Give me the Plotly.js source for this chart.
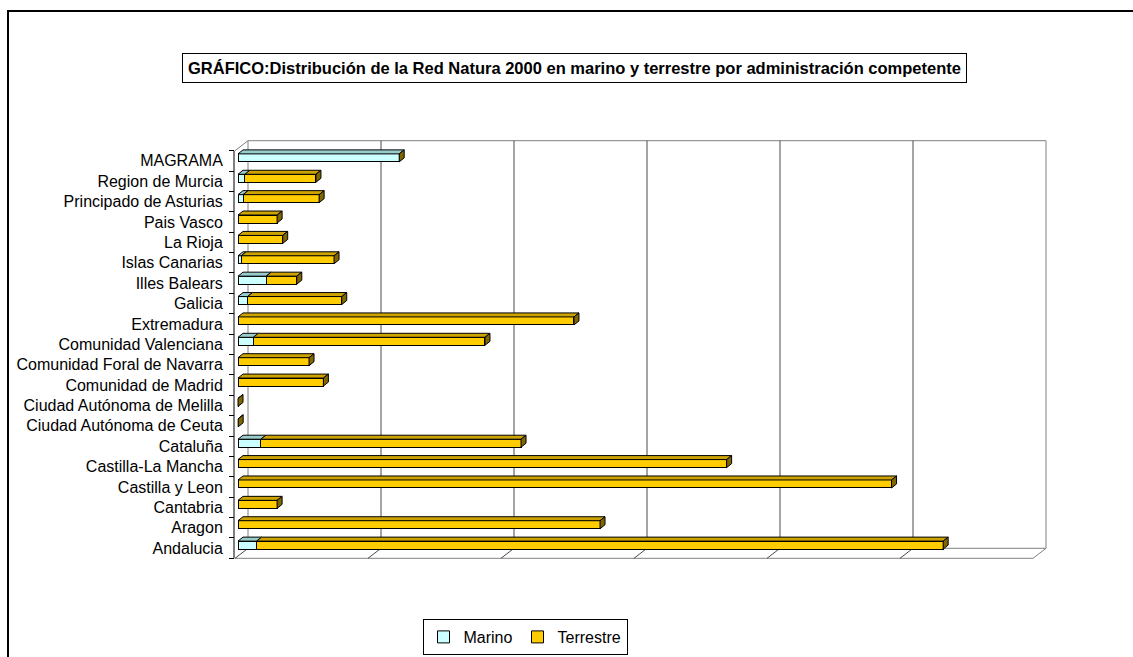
<!DOCTYPE html>
<html>
<head>
<meta charset="utf-8">
<script src="https://cdn.plot.ly/plotly-3.0.1.min.js"></script>
<style>html,body{margin:0;padding:0;background:#fff;}#chart{width:1133px;height:657px;}</style>
</head>
<body>
<div id="chart"></div>
<script>
// ---- data (bottom to top), hectares ----
const categories = ['Andalucia','Aragon','Cantabria','Castilla y Leon','Castilla-La Mancha','Cataluña','Ciudad Autónoma de Ceuta','Ciudad Autónoma de Melilla','Comunidad de Madrid','Comunidad Foral de Navarra','Comunidad Valenciana','Extremadura','Galicia','Illes Balears','Islas Canarias','La Rioja','Pais Vasco','Principado de Asturias','Region de Murcia','MAGRAMA'];
const marino    = [70000, 0, 0, 0, 0, 86000, 0, 0, 0, 0, 57500, 0, 36000, 106000, 12000, 0, 0, 19000, 26000, 606000];
const terrestre = [2581000, 1361000, 147000, 2457000, 1837000, 978000, 630, 46, 321000, 267000, 871000, 1263000, 354000, 115000, 349000, 168000, 147000, 286000, 267000, 0];
const seriesNames = ['Marino', 'Terrestre'];
const titleText = 'GRÁFICO:Distribución de la Red Natura 2000 en marino y terrestre por administración competente';

// ---- geometry (pixels) ----
const W = 1133, H = 657;
const FL = 235, FT = 150.7, FB = 558.3;     // front plane
const DX = 13, DY = 10;                     // wall depth
const BL = FL + DX, BT = FT - DY, BB = FB - DY, BR = 1046; // back wall
const GRID = 133;                           // px per 500 000 ha
const HPP = 500000 / GRID;                  // hectares per pixel
const X0 = 238;                             // pixel of value 0 (bar front face)
const rowH = (FB - FT) / categories.length;
const BW = 8 / rowH;                        // bar thickness (units)
const SH = 3 / rowH;                        // bar shift upward
const bdx = 5 * HPP, bdy = 4 / rowH;        // bar depth

const px = v => v / W, py = v => 1 - v / H;
const idx = categories.map((c, i) => i);
const FONT = 'Liberation Sans, Arial, sans-serif';

// ---- bars ----
const traces = [
  {type:'bar', orientation:'h', name:seriesNames[0], y:idx, x:marino, width:BW, offset:-BW/2+SH,
   marker:{color:'#ccffff', line:{color:'#000', width:1}}, hoverinfo:'skip'},
  {type:'bar', orientation:'h', name:seriesNames[1], y:idx, x:terrestre, width:BW, offset:-BW/2+SH,
   marker:{color:'#ffcc00', line:{color:'#000', width:1}}, hoverinfo:'skip'}
];

// ---- 3D faces computed from the data ----
const mTop = {x:[], y:[]}, tTop = {x:[], y:[]}, rFace = {x:[], y:[]};
idx.forEach(i => {
  const m = marino[i], t = terrestre[i];
  const yc = i + SH, yt = yc + BW/2, yb = yc - BW/2;
  if (m > 0) {
    mTop.x.push(0, m, m+bdx, bdx, 0, null);
    mTop.y.push(yt, yt, yt+bdy, yt+bdy, yt, null);
  }
  if (t > 0) {
    tTop.x.push(m, m+t, m+t+bdx, m+bdx, m, null);
    tTop.y.push(yt, yt, yt+bdy, yt+bdy, yt, null);
  }
  const e = m + t;
  rFace.x.push(e, e, e+bdx, e+bdx, e, null);
  rFace.y.push(yb, yt, yt+bdy, yb+bdy, yb, null);
});
[[mTop,'#99cccc'],[tTop,'#cca300'],[rFace,'#806600']].forEach(([p,c]) => {
  traces.push({type:'scatter', mode:'lines', x:p.x, y:p.y, fill:'toself', fillcolor:c,
    line:{color:'#000', width:1}, showlegend:false, hoverinfo:'skip'});
});

// ---- walls / floor decoration ----
const shapes = [];
const line = (x0,y0,x1,y1,color,width) => shapes.push({type:'line', xref:'paper', yref:'paper', layer:'below',
  x0:px(x0), y0:py(y0), x1:px(x1), y1:py(y1), line:{color:color, width:width}});
// outer frame
shapes.push({type:'rect', xref:'paper', yref:'paper', x0:px(8), y0:py(11), x1:px(1150), y1:py(680), line:{color:'#000', width:2}});
// back wall
shapes.push({type:'rect', xref:'paper', yref:'paper', layer:'below', x0:px(BL), y0:py(BT), x1:px(BR), y1:py(BB), line:{color:'#808080', width:1}});
for (let k = 1; k <= 5; k++) line(BL + k*GRID, BT, BL + k*GRID, BB, '#4a4a4a', 1);
// left wall top slant
line(FL, FT, BL, BT, '#808080', 1);
// floor
line(FL, FB, BR - DX, FB, '#808080', 1);
line(BR - DX, FB, BR, BB, '#808080', 1);
for (let k = 0; k <= 5; k++) line(FL + k*GRID, FB, BL + k*GRID, BB, '#4a4a4a', 1);
// y axis line
line(FL - 1, FT, FL - 1, FB, '#000', 1);

const layout = {
  width: W, height: H, autosize:false,
  margin:{l:0, r:0, t:0, b:0},
  paper_bgcolor:'#fff', plot_bgcolor:'rgba(0,0,0,0)',
  font:{family:FONT, size:16, color:'#000'},
  barmode:'stack',
  showlegend:true,
  xaxis:{domain:[px(FL), px(BR)], range:[-(X0-FL)*HPP, (BR-X0)*HPP],
    showgrid:false, zeroline:false, showline:false, showticklabels:false, ticks:'', fixedrange:true},
  yaxis:{domain:[py(FB), py(BT)], range:[-0.5, categories.length - 0.5 + (FT - BT)/rowH],
    tickmode:'array', tickvals:idx, ticktext:categories,
    ticks:'outside', ticklen:5, tickcolor:'rgba(0,0,0,0)', ticklabelstandoff:3,
    minor:{tickmode:'linear', tick0:-0.5, dtick:1, ticks:'outside', ticklen:5, tickcolor:'#000', tickwidth:1, showgrid:false},
    showgrid:false, zeroline:false, showline:false, automargin:false, fixedrange:true,
    tickfont:{family:FONT, size:16, color:'#000'}},
  legend:{orientation:'h', x:px(525), xanchor:'center', y:py(619), yanchor:'top',
    bordercolor:'#000', borderwidth:1, bgcolor:'#fff', font:{family:FONT, size:16, color:'#000'},
    itemwidth:30, traceorder:'normal', tracegroupgap:0},
  annotations:[{xref:'paper', yref:'paper', x:px(574), y:py(68), xanchor:'center', yanchor:'middle',
    text:titleText, showarrow:false, font:{family:FONT, size:16.5, color:'#000', weight:'bold'},
    bordercolor:'#000', borderwidth:1, borderpad:5, bgcolor:'#fff'}],
  shapes: shapes
};

Plotly.newPlot('chart', traces, layout, {displayModeBar:false, staticPlot:true});
</script>
</body>
</html>
